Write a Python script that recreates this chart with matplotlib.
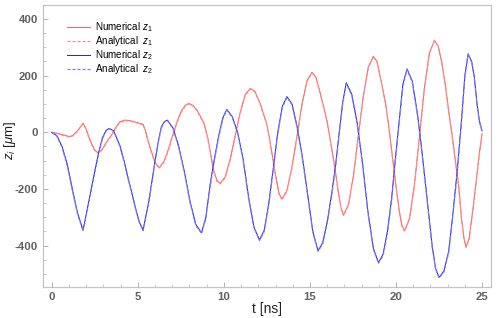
import matplotlib
matplotlib.use('Agg')
import matplotlib.pyplot as plt
from matplotlib.ticker import MultipleLocator

# time axis [ns] for z1 (sampled by eye from the reference)
t_z1 = [0, 0.3, 0.6, 0.9, 1.05, 1.25, 1.45, 1.65, 1.82,
        1.98, 2.15, 2.35, 2.5, 2.65,
        2.85, 3.05, 3.25, 3.47, 3.7, 3.95, 4.24,
        4.5, 4.8, 5.05, 5.31,
        5.45, 5.6, 5.79, 6.0, 6.24,
        6.5, 6.75, 6.95, 7.25, 7.5, 7.75, 7.96,
        8.2, 8.43, 8.65, 8.85,
        9.05, 9.25, 9.4, 9.6, 9.78,
        10.07, 10.36, 10.66, 10.95, 11.24, 11.53,
        11.8, 12.11, 12.3, 12.46,
        12.65, 12.85, 13.05, 13.2, 13.37,
        13.66, 13.95, 14.25, 14.54, 14.83, 15.12,
        15.35, 15.6, 15.8, 16.0,
        16.25, 16.47, 16.65, 16.8, 16.95,
        17.24, 17.53, 17.81, 18.10, 18.39, 18.68,
        18.9, 19.19, 19.4, 19.57,
        19.8, 20.0, 20.2, 20.35, 20.5,
        20.79, 21.08, 21.37, 21.65, 21.94, 22.23,
        22.45, 22.65, 22.87, 23.05, 23.26,
        23.45, 23.64, 23.8, 23.95, 24.07,
        24.25, 24.51, 24.7, 24.85, 25.0]

z1_numerical = [0, -3, -8, -13, -15, -10, 2, 18, 32,
                15, -15, -45, -62, -71,
                -66, -48, -28, -10, 15, 37, 43,
                42, 37, 33, 28,
                5, -30, -68, -105, -125,
                -105, -65, -25, 32, 72, 95, 102,
                95, 79, 55, 32,
                -15, -80, -133, -170, -180,
                -158, -96, -12, 71, 133, 155,
                145, 102, 65, 37,
                -20, -95, -165, -215, -236,
                -206, -124, -12, 100, 182, 212,
                195, 138, 90, 37,
                -50, -133, -210, -265, -292,
                -254, -152, -12, 128, 230, 268,
                250, 167, 100, 26,
                -90, -190, -280, -330, -348,
                -303, -180, -11, 157, 280, 325,
                305, 250, 167, 80, -10,
                -100, -186, -300, -375, -404,
                -375, -251, -150, -70, -5]

z1_analytical = [0, -4, -10, -15, -17, -12, 0, 16, 30,
                 12, -18, -48, -65, -73,
                 -68, -50, -30, -12, 12, 34, 40,
                 40, 35, 31, 26,
                 2, -33, -71, -108, -127,
                 -108, -69, -29, 28, 68, 92, 100,
                 93, 77, 52, 29,
                 -19, -84, -137, -173, -182,
                 -161, -100, -16, 67, 130, 153,
                 143, 99, 62, 34,
                 -24, -99, -169, -218, -238,
                 -209, -128, -16, 96, 179, 210,
                 193, 135, 87, 34,
                 -54, -137, -214, -268, -294,
                 -257, -156, -16, 124, 227, 266,
                 248, 164, 97, 23,
                 -94, -194, -284, -333, -350,
                 -306, -184, -15, 153, 277, 323,
                 303, 247, 164, 77, -13,
                 -104, -190, -304, -378, -406,
                 -378, -255, -154, -74, -8]

# time axis [ns] for z2
t_z2 = [0, 0.3, 0.6, 0.9, 1.2, 1.5, 1.82,
        2.05, 2.30, 2.55, 2.75, 2.95, 3.15, 3.33,
        3.6, 3.95, 4.2, 4.44, 4.7, 4.92, 5.1, 5.31,
        5.45, 5.6, 5.8, 5.99, 6.18, 6.37, 6.55, 6.72,
        7.05, 7.38, 7.71, 8.04, 8.37, 8.70,
        8.95, 9.2, 9.44, 9.69, 9.93, 10.17,
        10.49, 10.80, 11.12, 11.44, 11.75, 12.07,
        12.34, 12.60, 12.87, 13.13, 13.40, 13.66,
        13.96, 14.26, 14.57, 14.87, 15.17, 15.47,
        15.74, 16.02, 16.29, 16.5, 16.7, 16.9, 17.11,
        17.43, 17.74, 18.06, 18.37, 18.69, 18.98,
        19.25, 19.5, 19.75, 19.96, 20.15, 20.4, 20.64,
        20.95, 21.26, 21.51, 21.8, 22.1, 22.3, 22.5,
        22.78, 23.06, 23.3, 23.55, 23.8, 24.0, 24.19,
        24.4, 24.55, 24.71, 24.85, 25.0]

z2_numerical = [0, -12, -50, -112, -200, -285, -345,
                -275, -198, -122, -65, -18, 6, 14,
                5, -45, -100, -162, -225, -280, -318, -345,
                -300, -257, -180, -104, -35, 20, 38, 43,
                15, -50, -140, -245, -325, -355,
                -300, -185, -95, -15, 50, 81,
                55, 0, -95, -230, -335, -380,
                -346, -254, -127, 0, 92, 126,
                100, 20, -90, -220, -350, -418,
                -390, -310, -205, -110, 0, 105, 175,
                135, 35, -110, -280, -410, -460,
                -430, -350, -230, -95, 20, 170, 224,
                180, 60, -68, -230, -400, -480, -512,
                -490, -420, -290, -140, 40, 200, 277,
                250, 195, 100, 40, 5]

z2_analytical = [0, -14, -54, -118, -206, -290, -348,
                 -280, -204, -128, -70, -22, 4, 13,
                 3, -48, -104, -166, -229, -284, -321, -347,
                 -305, -262, -186, -110, -40, 16, 36, 42,
                 12, -54, -145, -250, -329, -357,
                 -305, -192, -102, -21, 45, 79,
                 52, -4, -100, -235, -338, -382,
                 -351, -260, -133, -6, 87, 124,
                 97, 15, -96, -226, -354, -420,
                 -395, -316, -212, -117, -7, 98, 171,
                 131, 30, -116, -286, -414, -462,
                 -436, -357, -238, -103, 12, 163, 221,
                 176, 54, -75, -237, -405, -483, -514,
                 -494, -426, -297, -148, 32, 193, 275,
                 247, 191, 95, 36, 2]

plt.rcParams['font.family'] = ['Liberation Sans', 'DejaVu Sans']
plt.rcParams['axes.unicode_minus'] = False
plt.rcParams['mathtext.fontset'] = 'custom'
plt.rcParams['mathtext.it'] = 'Liberation Sans:italic'
plt.rcParams['mathtext.rm'] = 'Liberation Sans'

fig = plt.figure(figsize=(4.99, 3.18), dpi=100)
ax = fig.add_axes([0.0868, 0.0984, 0.8965, 0.8856])

# thin, fairly light lines; the analytical dashes sit almost on top
ax.plot(t_z1, z1_numerical, color='#ff5a5a', lw=0.7, label='Numerical $z_1$')
ax.plot(t_z1, z1_analytical, color='#ff8a8a', lw=0.9, ls=(0, (2.5, 1.5)), label='Analytical  $z_1$')
ax.plot(t_z2, z2_numerical, color='#2020e0', lw=0.7, label='Numerical $z_2$')
ax.plot(t_z2, z2_analytical, color='#7a7aff', lw=0.9, ls=(0, (2.5, 1.5)), label='Analytical  $z_2$')

ax.set_xlim(-0.49, 25.5)
ax.set_ylim(-545, 449)

ax.xaxis.set_major_locator(MultipleLocator(5))
ax.xaxis.set_minor_locator(MultipleLocator(1))
ax.yaxis.set_major_locator(MultipleLocator(200))
ax.yaxis.set_minor_locator(MultipleLocator(50))

# light grey frame, small inward ticks
for s in ax.spines.values():
    s.set_color('#c4c4c4')
    s.set_linewidth(0.9)
ax.tick_params(which='both', direction='in', color='#b0b0b0', top=False, right=False)
ax.tick_params(which='major', length=3.5, width=0.7, pad=4,
               labelsize=8.2, labelcolor='#606060')
ax.tick_params(which='minor', length=2, width=0.5)
for lbl in ax.get_xticklabels() + ax.get_yticklabels():
    lbl.set_fontweight('bold')

ax.set_xlabel('t [ns]', fontsize=10, color='#222222', labelpad=0)
ax.set_ylabel('$z_i$ [$\\mu$m]', fontsize=9.5, color='#222222')
ax.yaxis.set_label_coords(-0.056, 0.52)

ax.legend(loc='upper left', bbox_to_anchor=(0.053, 0.945), frameon=False,
          fontsize=7.1, handlelength=2.35, handletextpad=0.45,
          labelspacing=0.0, borderpad=0, borderaxespad=0)

fig.savefig('out.png', dpi=100)
